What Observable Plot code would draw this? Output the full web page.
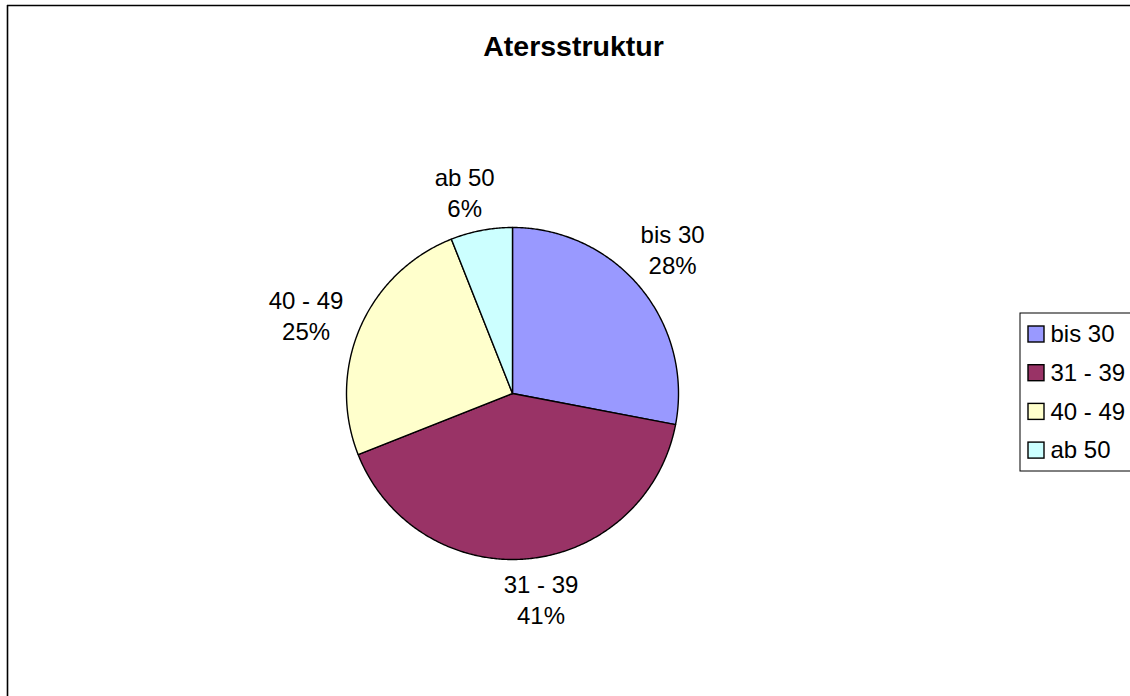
<!DOCTYPE html>
<html>
<head>
<meta charset="utf-8">
<script src="https://cdn.jsdelivr.net/npm/d3@7"></script>
<script src="https://cdn.jsdelivr.net/npm/@observablehq/plot@0.6"></script>
<style>
  html, body { margin: 0; padding: 0; background: #ffffff; }
  #chart { width: 1130px; height: 696px; overflow: hidden; }
</style>
</head>
<body>
<div id="chart"></div>
<script>
// ---- data ----
const title = "Atersstruktur";
const categories = ["bis 30", "31 - 39", "40 - 49", "ab 50"];
const shares = [28, 41, 25, 6];
const colors = ["#9999FF", "#993366", "#FFFFCC", "#CCFFFF"];

// ---- layout ----
const W = 1130, H = 696;
const cx = 512, cy = 393, R = 166;

const arcs = d3.pie().sort(null).value(d => d)(shares);
const total = d3.sum(shares);

const slices = arcs.map((a, i) => {
  const pts = [{x: cx, y: cy}];
  const n = Math.max(2, Math.ceil((a.endAngle - a.startAngle) / (Math.PI / 360)));
  for (let k = 0; k <= n; k++) {
    const t = a.startAngle + (a.endAngle - a.startAngle) * k / n;
    pts.push({x: cx + R * Math.sin(t), y: cy - R * Math.cos(t)});
  }
  pts.push({x: cx, y: cy});
  return {cat: categories[i], color: colors[i], pts};
});

const labelShift = -2.5 * Math.PI / 180;
const labels = arcs.map((a, i) => {
  const m = (a.startAngle + a.endAngle) / 2 + labelShift;
  const s = Math.sin(m);
  const rl = 207 + 16 * s * s;
  return {
    x: cx + rl * Math.sin(m),
    y: cy - rl * Math.cos(m),
    text: categories[i] + "\n" + Math.round(shares[i] / total * 100) + "%"
  };
});

const legendRows = categories.map((c, i) => ({cat: c, color: colors[i], i}));
const legY = i => 334 + i * 38.7;

const marks = [
  // outer chart frame
  Plot.ruleX([7], {y1: 5, y2: H, stroke: "#000", strokeWidth: 1.6}),
  Plot.ruleY([5], {x1: 7, x2: W, stroke: "#000", strokeWidth: 1.6}),
  // title
  Plot.text([title], {x: 573, y: 46, text: d => d, fontSize: 28.5, fontWeight: "bold", fill: "#000"}),
];

slices.forEach(s => {
  marks.push(Plot.line(s.pts, {x: "x", y: "y", fill: s.color, stroke: "#000", strokeWidth: 1.4, curve: "linear"}));
});

marks.push(Plot.text(labels, {x: "x", y: "y", text: "text", fontSize: 24, lineHeight: 1.29, fill: "#000", lineAnchor: "middle"}));

// legend box
marks.push(Plot.rect([0], {x1: 1020, x2: W + 20, y1: 313, y2: 471, fill: "none", stroke: "#000", strokeWidth: 1}));
marks.push(Plot.rect(legendRows, {x1: 1028, x2: 1044, y1: d => legY(d.i) - 8, y2: d => legY(d.i) + 8, fill: d => d.color, stroke: "#000", strokeWidth: 1.4}));
marks.push(Plot.text(legendRows, {x: 1050, y: d => legY(d.i), text: "cat", textAnchor: "start", fontSize: 24, fill: "#000"}));

const chart = Plot.plot({
  width: W,
  height: H,
  margin: 0,
  x: {type: "linear", domain: [0, W], range: [0, W], axis: null},
  y: {type: "linear", domain: [0, H], range: [0, H], axis: null},
  color: {type: "identity"},
  style: {fontFamily: "'Liberation Sans', Arial, sans-serif", background: "#ffffff", color: "#000", overflow: "hidden"},
  marks
});
document.getElementById("chart").appendChild(chart);
</script>
</body>
</html>
